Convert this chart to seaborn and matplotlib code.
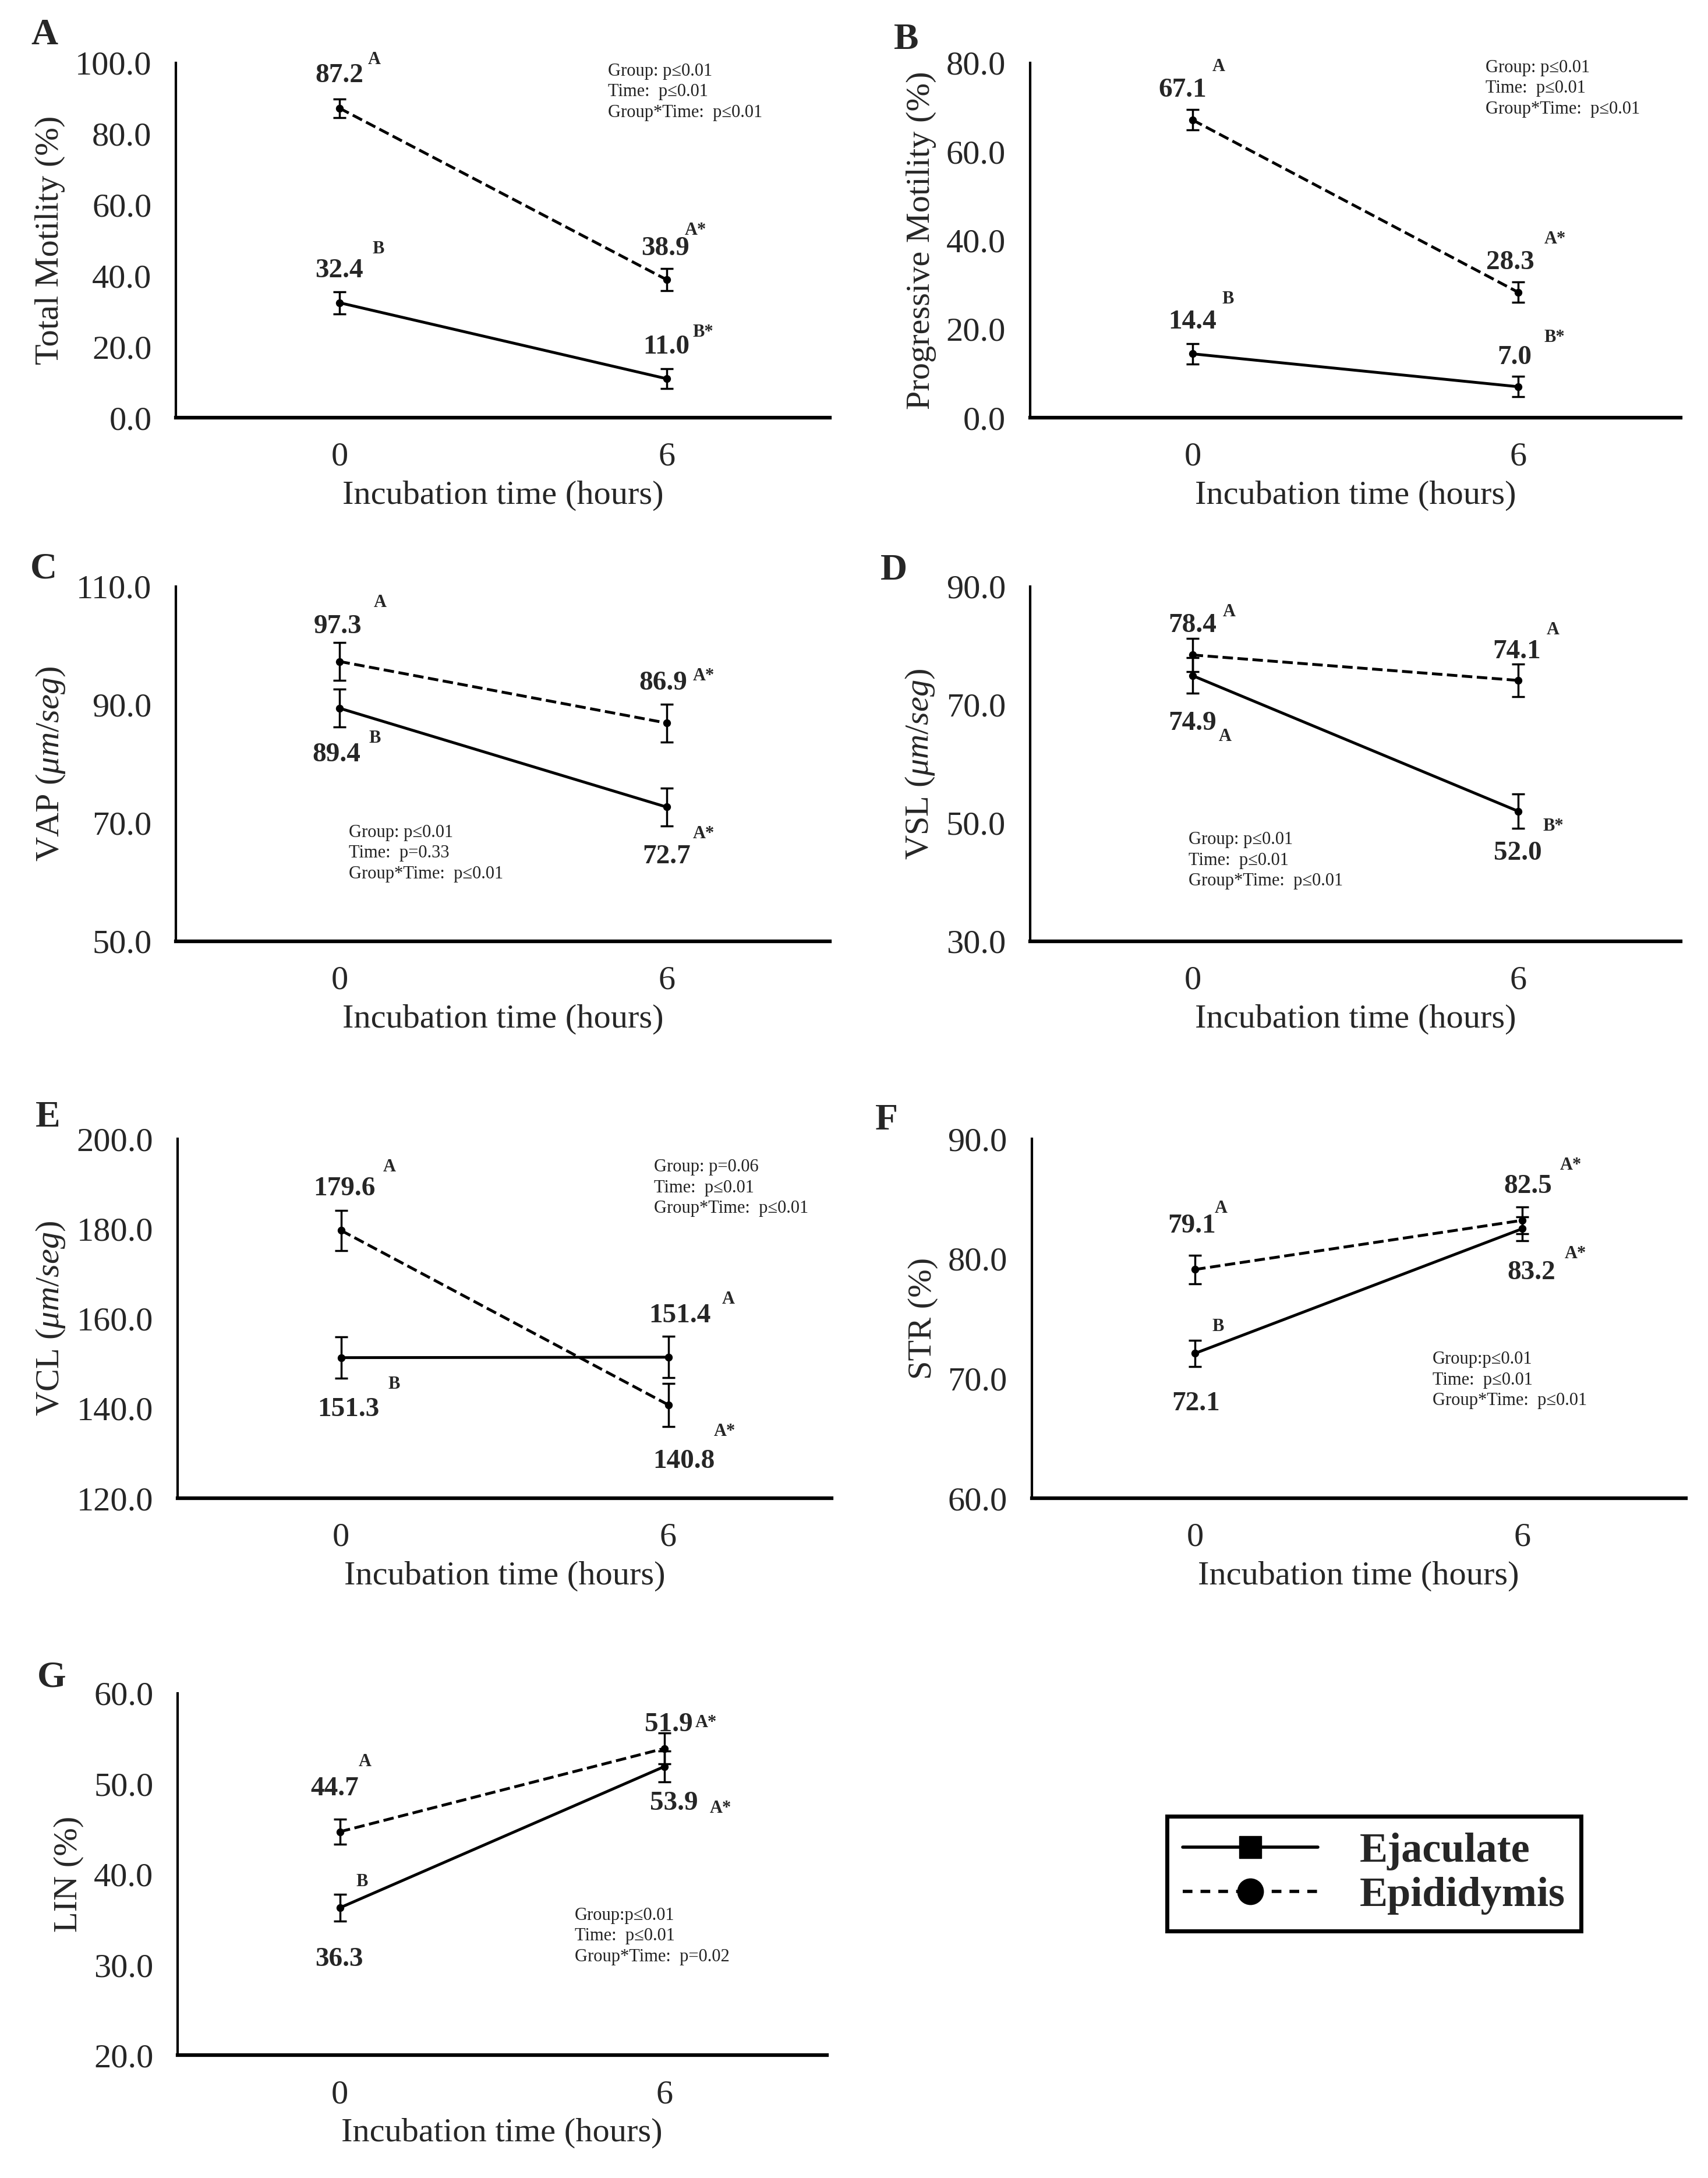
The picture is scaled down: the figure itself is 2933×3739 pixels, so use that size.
import numpy as np
import pandas as pd
import matplotlib
matplotlib.use("Agg")
import matplotlib.pyplot as plt
from matplotlib.lines import Line2D
from matplotlib.ticker import FormatStrFormatter
import seaborn as sns

# data
time_labels = ["0", "6"]
groups = ["Ejaculate", "Epididymis"]
panel_letters = ["A", "B", "C", "D", "E", "F", "G"]
ylabels = ["Total Motility (%)", "Progressive Motility (%)",
           r"VAP ($\mathit{\mu m/seg}$)", r"VSL ($\mathit{\mu m/seg}$)",
           r"VCL ($\mathit{\mu m/seg}$)", "STR (%)", "LIN (%)"]

ejac_mean = [[32.4, 11.0], [14.4, 7.0], [89.4, 72.7], [74.9, 52.0],
             [151.3, 151.4], [72.1, 82.5], [36.3, 51.9]]
epi_mean = [[87.2, 38.9], [67.1, 28.3], [97.3, 86.9], [78.4, 74.1],
            [179.6, 140.8], [79.1, 83.2], [44.7, 53.9]]
ejac_sem = [[3.1, 2.8], [2.3, 2.3], [3.2, 3.2], [3.0, 2.9],
            [4.6, 4.6], [1.1, 1.0], [1.5, 1.7]]
epi_sem = [[2.6, 3.1], [2.3, 2.3], [3.2, 3.2], [2.8, 2.8],
           [4.5, 4.8], [1.2, 1.1], [1.4, 1.7]]

ejac_letters = [["B", "B*"], ["B", "B*"], ["B", "A*"], ["A", "B*"],
                ["B", "A"], ["B", "A*"], ["B", "A*"]]
epi_letters = [["A", "A*"], ["A", "A*"], ["A", "A*"], ["A", "A"],
               ["A", "A*"], ["A", "A*"], ["A", "A*"]]

y_min = [0, 0, 50, 30, 120, 60, 20]
y_max = [100, 80, 110, 90, 200, 90, 60]
y_step = [20, 20, 20, 20, 20, 10, 10]

stats = [
    ["Group: p\u22640.01", "Time:  p\u22640.01", "Group*Time:  p\u22640.01"],
    ["Group: p\u22640.01", "Time:  p\u22640.01", "Group*Time:  p\u22640.01"],
    ["Group: p\u22640.01", "Time:  p=0.33", "Group*Time:  p\u22640.01"],
    ["Group: p\u22640.01", "Time:  p\u22640.01", "Group*Time:  p\u22640.01"],
    ["Group: p=0.06", "Time:  p\u22640.01", "Group*Time:  p\u22640.01"],
    ["Group:p\u22640.01", "Time:  p\u22640.01", "Group*Time:  p\u22640.01"],
    ["Group:p\u22640.01", "Time:  p\u22640.01", "Group*Time:  p=0.02"],
]

# layout (figure fractions / annotation positions)
axes_pos = [
    (0.103, 0.8082, 0.383, 0.163), (0.603, 0.8082, 0.381, 0.163),
    (0.103, 0.5678, 0.383, 0.163), (0.603, 0.5678, 0.381, 0.163),
    (0.104, 0.3121, 0.383, 0.165), (0.604, 0.3121, 0.383, 0.165),
    (0.104, 0.0563, 0.380, 0.1663),
]
letter_pos = [(0.026, 0.9837), (0.5305, 0.9816), (0.0256, 0.7387), (0.5234, 0.7379),
              (0.028, 0.4868), (0.519, 0.4854), (0.0304, 0.2295)]
stats_pos = [(0.66, 1.0), (0.70, 1.01), (0.264, 0.33), (0.244, 0.31),
             (0.728, 0.945), (0.613, 0.41), (0.612, 0.41)]
# per panel: [ejac t0, ejac t6, epi t0, epi t6] -> (num x, num y, letter x, letter y)
ann_pos = [
    [(0.0, 41.4, 0.10, 47.6), (1.0, 19.8, 1.08, 24.0), (0.0, 96.3, 0.087, 100.8), (0.997, 47.6, 1.056, 52.7)],
    [(0.0, 21.5, 0.09, 26.7), (0.99, 13.6, 1.08, 18.1), (-0.03, 73.8, 0.06, 79.1), (0.977, 35.0, 1.08, 40.3)],
    [(-0.01, 81.5, 0.09, 84.3), (1.0, 64.3, 1.08, 68.2), (-0.005, 103.2, 0.105, 107.2), (0.99, 93.6, 1.08, 94.8)],
    [(0.0, 66.8, 0.08, 64.6), (1.0, 44.9, 1.076, 49.4), (0.0, 83.4, 0.093, 85.7), (0.996, 78.9, 1.088, 82.6)],
    [(0.022, 139.7, 0.144, 145.3), (1.036, 160.6, 1.165, 164.3), (0.01, 188.8, 0.128, 193.7), (1.048, 128.2, 1.14, 134.9)],
    [(0.002, 67.9, 0.052, 74.3), (1.018, 86.0, 1.115, 87.8), (-0.011, 82.7, 0.06, 84.2), (1.028, 78.8, 1.13, 80.4)],
    [(-0.002, 30.6, 0.049, 39.2), (1.014, 56.5, 1.095, 56.7), (-0.016, 49.4, 0.057, 52.4), (1.03, 47.8, 1.14, 47.3)],
]

sns.set_theme(style="white")
plt.rcParams["font.family"] = ["Liberation Serif", "DejaVu Serif"]
plt.rcParams["mathtext.fontset"] = "custom"
plt.rcParams["mathtext.rm"] = "Liberation Serif"
plt.rcParams["mathtext.it"] = "Liberation Serif:italic"

fig = plt.figure(figsize=(29.33, 37.39), dpi=100)

for i in range(7):
    ax = fig.add_axes(axes_pos[i])
    df = pd.DataFrame({
        "time": time_labels * 2,
        "value": ejac_mean[i] + epi_mean[i],
        "group": [groups[0]] * 2 + [groups[1]] * 2,
    })
    sns.pointplot(data=df, x="time", y="value", hue="group", order=time_labels,
                  hue_order=groups, palette=["black", "black"],
                  linestyles=["-", "--"], markers=["o", "o"], errorbar=None,
                  legend=False, ax=ax, markersize=7, linewidth=3.5)
    for m, s in [(ejac_mean[i], ejac_sem[i]), (epi_mean[i], epi_sem[i])]:
        ax.errorbar([0, 1], m, yerr=s, fmt="none", ecolor="black",
                    elinewidth=2.5, capsize=8, capthick=2.5)

    ax.set_xlim(-0.5, 1.5)
    ax.set_ylim(y_min[i], y_max[i])
    ax.set_yticks(np.arange(y_min[i], y_max[i] + 0.1, y_step[i]))
    ax.yaxis.set_major_formatter(FormatStrFormatter("%.1f"))
    ax.set_xticks([0, 1], time_labels)
    ax.set_xticks([-0.5, 0.5, 1.5], minor=True)
    ax.tick_params(axis="x", which="major", length=0, pad=30, labelsize=42)
    ax.tick_params(axis="x", which="minor", length=14, width=4, direction="out")
    ax.tick_params(axis="y", length=12, width=3, direction="out", pad=18, labelsize=42)
    sns.despine(ax=ax)
    ax.spines["left"].set_linewidth(3)
    ax.spines["bottom"].set_linewidth(4.5)
    ax.spines["left"].set_color("black")
    ax.spines["bottom"].set_color("black")
    ax.set_xlabel("Incubation time (hours)", fontsize=42, labelpad=10)
    ax.set_ylabel(ylabels[i], fontsize=42, labelpad=12)

    values = ejac_mean[i] + epi_mean[i]
    letters = ejac_letters[i] + epi_letters[i]
    for v, let, (nx, ny, lx, ly) in zip(values, letters, ann_pos[i]):
        ax.text(nx, ny, f"{v:.1f}", ha="center", va="center",
                fontsize=34, fontweight="bold")
        ax.text(lx, ly, let, ha="left", va="center", fontsize=22, fontweight="bold")

    sx, sy = stats_pos[i]
    ax.text(sx, sy, "\n".join(stats[i]), transform=ax.transAxes, ha="left",
            va="top", fontsize=22, linespacing=1.3, color="#222222")

    fig.text(letter_pos[i][0], letter_pos[i][1], panel_letters[i], ha="center",
             va="center", fontsize=46, fontweight="bold")

handles = [
    Line2D([], [], color="black", lw=4, ls="-", marker="s", markersize=27),
    Line2D([], [], color="black", lw=4, ls=(0, (3, 2.5)), marker="o", markersize=32),
]
leg = fig.legend(handles, groups, loc="upper left",
                 bbox_to_anchor=(2004 / 2933, 1 - 3118 / 3739),
                 frameon=True, fancybox=False, framealpha=1, edgecolor="black",
                 prop={"family": "Liberation Serif", "weight": "bold", "size": 52},
                 handlelength=3.2, handletextpad=1.0, labelspacing=0.15,
                 borderpad=0.38, borderaxespad=0)
leg.get_frame().set_linewidth(5)

fig.savefig("out.png", dpi=100, facecolor="white")
